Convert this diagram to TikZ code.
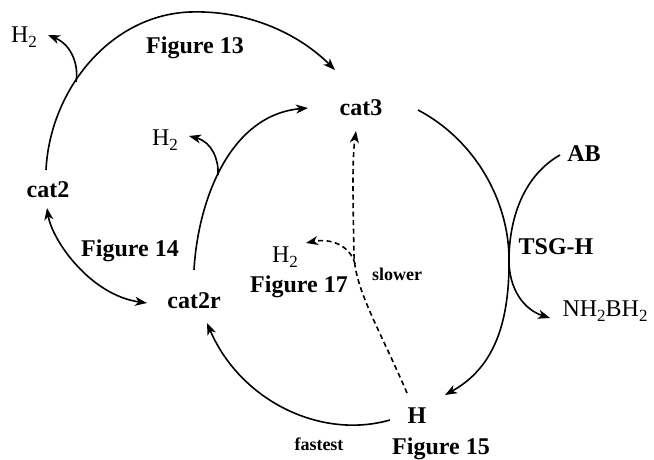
\documentclass[tikz,border=0pt]{standalone}
\usepackage{fontspec}
\setmainfont{Liberation Serif}
\usetikzlibrary{arrows.meta}
\newcommand{\mysub}[1]{\raisebox{-0.4ex}{\fontsize{17}{17}\selectfont #1}}
\begin{document}
\begin{tikzpicture}[x=1pt,y=-1pt,
  lbl/.style={font=\fontsize{24}{28}\selectfont\bfseries, inner sep=0pt},
  chem/.style={font=\fontsize{24}{28}\selectfont, inner sep=0pt},
  small/.style={font=\fontsize{18}{21}\selectfont\bfseries, inner sep=0pt},
  tip/.style={-{Stealth[length=12pt,width=9pt,inset=3.5pt]}},
  conn/.style={line width=1.6pt, tip},
  both/.style={line width=1.6pt, {Stealth[length=12pt,width=9pt,inset=3.5pt]}-{Stealth[length=12pt,width=9pt,inset=3.5pt]}},
  dashconn/.style={line width=1.6pt, dash pattern=on 5pt off 3.5pt, tip}
]
\path[use as bounding box] (0,0) rectangle (654,460);

% species
\node[lbl] (cat2) at (48,190) {cat2};
\node[lbl] (cat3) at (361,108) {cat3};
\node[lbl] (cat2r) at (194,301) {cat2r};
\node[lbl] (Hn) at (417,416) {H};
\node[lbl] (AB) at (584,154) {AB};
\node[chem] (h2a) at (24,37) {H\mysub{2}};
\node[chem] (h2b) at (165,140) {H\mysub{2}};
\node[chem] (h2c) at (285,257) {H\mysub{2}};
\node[chem] (nhbh) at (605,311) {NH\mysub{2}BH\mysub{2}};

% labels
\node[lbl] (f13) at (195,48) {Figure 13};
\node[lbl] (f14) at (130,251) {Figure 14};
\node[lbl] (f17) at (299,287) {Figure 17};
\node[lbl] (f15) at (441,449) {Figure 15};
\node[lbl] (tsg) at (556,247) {TSG-H};
\node[small] (slow) at (397,274) {slower};
\node[small] (fast) at (319,444) {fastest};

% connector end points
\coordinate (c2top) at (46,170);
\coordinate (c2bot) at (47,208);
\coordinate (c3in) at (335,70);
\coordinate (c3in2) at (308,108);
\coordinate (c3out) at (418,110);
\coordinate (c3dash) at (356,131);
\coordinate (c2rtop) at (194,270);
\coordinate (c2rleft) at (147,303);
\coordinate (c2rin) at (207,323);
\coordinate (Hin) at (445,395);
\coordinate (Hout) at (390,420);
\coordinate (Hdash) at (407,393);
\coordinate (ABout) at (560,155);
\coordinate (nhin) at (550,318);
\coordinate (h2ain) at (48,35);
\coordinate (h2bin) at (189,136);
\coordinate (h2cin) at (306,243);
\coordinate (br1) at (76,82);
\coordinate (br2) at (218,175);
\coordinate (br3) at (355,264);
\coordinate (kiss) at (509,257);

% Figure 13 arc
\draw[conn] (c2top) .. controls (50,90) and (110,15) .. (190,12)
  .. controls (250,10) and (300,35) .. (c3in);
\draw[conn] (br1) .. controls (79,66) and (72,45) .. (h2ain);

% cat2r -> cat3
\draw[conn] (c2rtop) .. controls (198,200) and (230,115) .. (c3in2);
\draw[conn] (br2) .. controls (219,160) and (212,142) .. (h2bin);

% Figure 14 double arrow
\draw[both] (c2bot) .. controls (52,240) and (90,295) .. (c2rleft);

% cat3 -> H
\draw[conn] (c3out) .. controls (475,140) and (508,200) .. (kiss)
  .. controls (510,330) and (490,370) .. (Hin);

% AB -> NH2BH2
\draw[conn] (ABout) .. controls (525,175) and (510,215) .. (kiss)
  .. controls (508,290) and (525,310) .. (nhin);

% H -> cat2r
\draw[conn] (Hout) .. controls (320,440) and (240,400) .. (c2rin);

% dashed H -> cat3
\draw[dashconn] (Hdash) .. controls (380,330) and (355,290) .. (354,255)
  .. controls (353,200) and (352,160) .. (c3dash);
\draw[dashconn] (br3) .. controls (350,245) and (330,238) .. (h2cin);
\end{tikzpicture}
\end{document}
